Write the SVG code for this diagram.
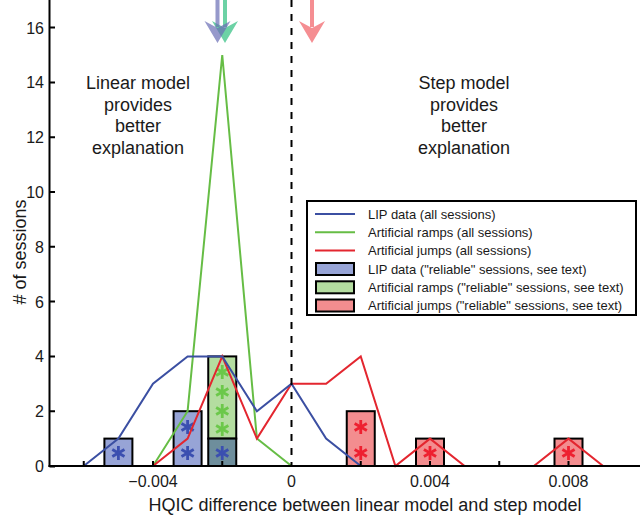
<svg xmlns="http://www.w3.org/2000/svg" width="640" height="518" viewBox="0 0 640 518">
<style>
text{font-family:"Liberation Sans",Arial,sans-serif;fill:#1a1a1a}
.tick{font-size:16px}
.ann{font-size:18px;text-anchor:middle}
.leg{font-size:13px}
.ax{stroke:#000;stroke-width:2;fill:none}
.bar{stroke:#000;stroke-width:2}
.lip{fill:#97a4d6}
.ramp{fill:#b4dda0}
.both{fill:#6e8e9c}
.jump{fill:#f38d8f}
.lb{stroke:#3b4fa2;stroke-width:2;fill:none}
.lg{stroke:#66bd45;stroke-width:2;fill:none}
.lr{stroke:#e3262f;stroke-width:2;fill:none}
.sb{stroke:#3b4fb0}
.sg{stroke:#6cc84a}
.sr{stroke:#ee2030}
</style>
<defs>
<g id="star" stroke-width="2.8" stroke-linecap="butt">
<line x1="0" y1="-7" x2="0" y2="7"/>
<line x1="-6.1" y1="-3.5" x2="6.1" y2="3.5"/>
<line x1="-6.1" y1="3.5" x2="6.1" y2="-3.5"/>
</g>
</defs>

<!-- bars -->
<g id="bars">
<rect class="bar lip" x="104.4" y="438.6" width="28" height="27.4"/>
<rect class="bar lip" x="173.6" y="411.2" width="28" height="54.8"/>
<rect class="bar ramp" x="208.25" y="356.4" width="28" height="82.2"/>
<rect class="bar both" x="208.25" y="438.6" width="28" height="27.4"/>
<rect class="bar jump" x="346.75" y="411.2" width="28" height="54.8"/>
<rect class="bar jump" x="416" y="438.6" width="28" height="27.4"/>
<rect class="bar jump" x="554.5" y="438.6" width="28" height="27.4"/>
</g>

<!-- stars -->
<g id="stars">
<use href="#star" class="sb" x="118.4" y="453"/>
<use href="#star" class="sb" x="187.6" y="427"/>
<use href="#star" class="sb" x="187.6" y="453"/>
<use href="#star" class="sb" x="222.25" y="453"/>
<use href="#star" class="sg" x="222.25" y="372"/>
<use href="#star" class="sg" x="222.25" y="392"/>
<use href="#star" class="sg" x="222.25" y="411"/>
<use href="#star" class="sg" x="222.25" y="429"/>
<use href="#star" class="sr" x="360.75" y="427"/>
<use href="#star" class="sr" x="360.75" y="453"/>
<use href="#star" class="sr" x="430" y="453"/>
<use href="#star" class="sr" x="568.5" y="453"/>
</g>

<!-- histogram lines -->
<g id="connectors">
<polyline class="lg" points="153,466 187.6,411.2 222.25,55 256.9,438.6 291.5,466"/>
<polyline class="lr" points="153,466 187.6,438.6 222.25,356.4 256.9,438.6 291.5,383.8 326.1,383.8 360.75,356.4 395.4,466 430,438.6 464.6,466 533.9,466 568.5,438.6 603.1,466"/>
<polyline class="lb" points="83.75,466 118.4,438.6 153,383.8 187.6,356.4 222.25,356.4 256.9,411.2 291.5,383.8 326.1,438.6 360.75,466"/>
</g>

<!-- dashed zero line -->
<line x1="291.5" y1="0" x2="291.5" y2="466" stroke="#000" stroke-width="2" stroke-dasharray="7,7"/>

<!-- arrows -->
<g id="arrows">
<g fill="#2fbf80" opacity="0.7">
<rect x="223" y="0" width="4" height="27"/>
<polygon points="212,21 225,28 238,21 225,43"/>
</g>
<g fill="#6a6eb6" opacity="0.7">
<rect x="215.5" y="0" width="4" height="27"/>
<polygon points="204.5,21 217.5,28 230.5,21 217.5,43"/>
</g>
<g fill="#f47b80" opacity="0.85">
<rect x="310" y="0" width="4" height="27"/>
<polygon points="299,21 312,28 325,21 312,43"/>
</g>
</g>

<!-- axes -->
<g id="axes">
<line class="ax" x1="49.5" y1="0" x2="49.5" y2="467"/>
<line class="ax" x1="48.5" y1="466" x2="640" y2="466"/>
<path class="ax" d="M49.5 466.5H55M49.5 411.2H55M49.5 356.4H55M49.5 301.6H55M49.5 246.8H55M49.5 192H55M49.5 137.2H55M49.5 82.4H55M49.5 27.6H55"/>
<path class="ax" d="M83.75 466V461M153 466V461M222.25 466V461M360.75 466V461M430 466V461M499.25 466V461M568.5 466V461"/>
</g>

<g id="ylabels" class="tick" text-anchor="end">
<text x="44" y="472">0</text>
<text x="44" y="417">2</text>
<text x="44" y="362">4</text>
<text x="44" y="307.5">6</text>
<text x="44" y="252.5">8</text>
<text x="44" y="198">10</text>
<text x="44" y="143">12</text>
<text x="44" y="88">14</text>
<text x="44" y="33.5">16</text>
</g>
<g id="xlabels" class="tick" text-anchor="middle">
<text x="153" y="487">−0.004</text>
<text x="291.5" y="487">0</text>
<text x="430" y="487">0.004</text>
<text x="568.5" y="487">0.008</text>
</g>

<text x="365" y="511" font-size="18" text-anchor="middle">HQIC difference between linear model and step model</text>
<text x="26" y="252" font-size="18" text-anchor="middle" transform="rotate(-90 26 252)"># of sessions</text>

<g id="ann-linear" class="ann">
<text x="138" y="89">Linear model</text>
<text x="138" y="110.5">provides</text>
<text x="138" y="132">better</text>
<text x="138" y="153.5">explanation</text>
</g>
<g id="ann-step" class="ann">
<text x="464" y="89">Step model</text>
<text x="464" y="110.5">provides</text>
<text x="464" y="132">better</text>
<text x="464" y="153.5">explanation</text>
</g>

<!-- legend -->
<g id="legend">
<rect x="307" y="201" width="329" height="114" fill="#fff" stroke="#000" stroke-width="2"/>
<line class="lb" x1="315" y1="214" x2="355" y2="214"/>
<line class="lg" x1="315" y1="232.3" x2="355" y2="232.3"/>
<line class="lr" x1="315" y1="250.5" x2="355" y2="250.5"/>
<rect class="bar lip" x="316" y="263" width="38" height="12"/>
<rect class="bar ramp" x="316" y="281.3" width="38" height="12"/>
<rect class="bar jump" x="316" y="299.5" width="38" height="12"/>
<g class="leg">
<text x="368" y="218.5">LIP data (all sessions)</text>
<text x="368" y="236.8">Artificial ramps (all sessions)</text>
<text x="368" y="255">Artificial jumps (all sessions)</text>
<text x="368" y="273.5">LIP data ("reliable" sessions, see text)</text>
<text x="368" y="291.8">Artificial ramps ("reliable" sessions, see text)</text>
<text x="368" y="310">Artificial jumps ("reliable" sessions, see text)</text>
</g>
</g>
</svg>
